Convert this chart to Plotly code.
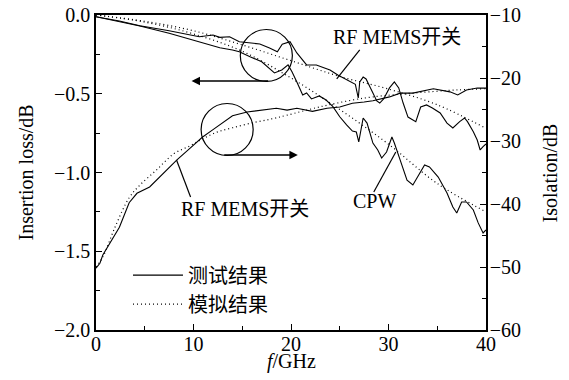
import plotly.graph_objects as go

FONT = "Liberation Serif"
FONT_CJK = "Liberation Serif, Noto Sans CJK SC"

# ---- Insertion loss, RF MEMS switch (measured) ----
il_mems_x = [0, 2.4, 4.5, 7.5, 10.6, 12.0, 12.7, 13.7, 14.7, 16.8, 17.8, 18.6, 19.1, 19.9, 20.6,
             21.6, 22.6, 24.0, 24.8, 25.7, 26.3, 26.6, 26.9, 27.05, 27.4, 27.7, 28.1, 28.8, 29.1,
             29.5, 30.1, 30.6, 31.05, 31.5, 32.0, 32.5, 32.8, 33.3, 33.9, 34.5, 35.3, 36.0, 36.6,
             37.3, 37.8, 38.1, 38.7, 39.1, 39.4, 39.7, 40.0]
il_mems_y = [-0.011, -0.038, -0.068, -0.10, -0.138, -0.127, -0.142, -0.138, -0.17, -0.184, -0.21,
             -0.233, -0.186, -0.17, -0.241, -0.317, -0.317, -0.349, -0.381, -0.413, -0.432, -0.44,
             -0.527, -0.425, -0.394, -0.406, -0.457, -0.546, -0.559, -0.533, -0.463, -0.425, -0.463,
             -0.559, -0.648, -0.667, -0.677, -0.584, -0.571, -0.59, -0.622, -0.686, -0.717, -0.677,
             -0.654, -0.677, -0.741, -0.794, -0.857, -0.836, -0.819]

# ---- Insertion loss, CPW (measured) ----
il_cpw_x = [0, 2.4, 4.5, 7.5, 10.6, 12.7, 14.0, 14.7, 15.8, 17.0, 18.3, 19.05, 19.7, 20.1, 20.6,
            21.2, 21.6, 22.1, 22.9, 23.6, 24.3, 25.0, 25.7, 26.3, 26.7, 26.95, 27.4, 27.8, 28.4,
            28.9, 29.3, 29.8, 30.35, 30.6, 31.2, 31.9, 32.5, 33.0, 33.7, 34.2, 35.1, 36.0, 36.6,
            37.0, 37.5, 38.0, 38.7, 39.2, 39.7, 40.0]
il_cpw_y = [-0.011, -0.04, -0.07, -0.116, -0.171, -0.208, -0.222, -0.233, -0.265, -0.297, -0.368,
            -0.349, -0.317, -0.36, -0.425, -0.508, -0.495, -0.533, -0.514, -0.54, -0.582, -0.646,
            -0.698, -0.737, -0.743, -0.806, -0.654, -0.686, -0.813, -0.857, -0.908, -0.87, -0.775,
            -0.813, -0.921, -1.048, -1.079, -1.029, -0.952, -0.965, -1.029, -1.13, -1.219, -1.257,
            -1.187, -1.187, -1.238, -1.32, -1.384, -1.365]

# ---- Insertion loss, simulated ----
il_sim_x = [0, 5, 10, 15, 20, 25, 30, 35, 40]
il_mems_sim_y = [0, -0.04, -0.10, -0.19, -0.29, -0.39, -0.47, -0.57, -0.72]
il_cpw_sim_y = [0, -0.045, -0.12, -0.23, -0.40, -0.60, -0.82, -1.07, -1.25]

# ---- Isolation, RF MEMS switch ----
iso_x = [0, 0.4, 0.7, 1.4, 2.1, 2.4, 3.4, 4.2, 5.5, 7.0, 8.3, 9.6, 10.9, 12.0, 13.0, 14.0, 15.5,
         17.0, 18.5, 19.6, 20.6, 22.2, 23.7, 25.0, 26.3, 27.5, 28.4, 30.1, 31.2, 32.5, 34.6, 36.3,
         37.1, 38.0, 39.1, 40]
iso_y = [-50.2, -49.4, -48.1, -46.2, -44.5, -43.7, -39.8, -38.3, -37.3, -35.0, -33.0, -31.2, -29.4,
         -28.2, -27.1, -26.0, -25.4, -25.1, -24.8, -25.1, -24.8, -25.3, -24.8, -24.6, -24.0, -23.8,
         -23.6, -23.0, -22.4, -22.4, -21.7, -22.2, -22.7, -21.9, -21.6, -21.6]
iso_sim_x = [0, 0.7, 2.0, 3.4, 4.5, 6.2, 8.0, 9.6, 11.0, 12.4, 14.0, 16.1, 18.0, 19.6, 22.9, 26.3,
             28.4, 32.5, 37.0, 40]
iso_sim_y = [-50.0, -48.4, -43.5, -39.0, -37.0, -34.6, -32.0, -30.8, -29.6, -28.6, -27.9, -27.1,
             -26.5, -25.9, -24.6, -23.5, -23.0, -22.4, -21.9, -21.7]

legend_names = ["测试结果", "模拟结果"]
axis_titles = ["<i>f</i>/GHz", "Insertion loss/dB", "Isolation/dB"]

fig = go.Figure()
solid = dict(color="black", width=1.1)
dotted = dict(color="black", width=1.2, dash="1px,3px")

fig.add_trace(go.Scatter(x=il_mems_x, y=il_mems_y, mode="lines", line=solid,
                         name=legend_names[0], showlegend=True))
fig.add_trace(go.Scatter(x=il_sim_x, y=il_mems_sim_y, mode="lines", line=dict(dotted, shape="spline"),
                         name=legend_names[1], showlegend=True))
fig.add_trace(go.Scatter(x=il_cpw_x, y=il_cpw_y, mode="lines", line=solid, showlegend=False))
fig.add_trace(go.Scatter(x=il_sim_x, y=il_cpw_sim_y, mode="lines", line=dict(dotted, shape="spline"),
                         showlegend=False))
fig.add_trace(go.Scatter(x=iso_x, y=iso_y, mode="lines", line=solid, yaxis="y2", showlegend=False))
fig.add_trace(go.Scatter(x=iso_sim_x, y=iso_sim_y, mode="lines", line=dict(dotted, shape="spline"),
                         yaxis="y2", showlegend=False))

axis_common = dict(showgrid=False, zeroline=False, linecolor="black", linewidth=1.6,
                   ticks="inside", ticklen=6, tickwidth=1.2, tickcolor="black", automargin=False,
                   ticklabeloverflow="allow",
                   tickfont=dict(family=FONT, size=20, color="black"))

# the page body has an 8px margin, so the figure is 8px smaller and shifted accordingly
fig.update_layout(
    width=561, height=372,
    margin=dict(l=88, r=83, t=7, b=50),
    paper_bgcolor="white", plot_bgcolor="white",
    font=dict(family=FONT, size=20, color="black"),
    xaxis=dict(axis_common, range=[0, 40], dtick=10, mirror=True, ticklabelstandoff=-5,
               minor=dict(dtick=5, ticks="inside", ticklen=4, tickcolor="black")),
    yaxis=dict(axis_common, range=[-2, 0], dtick=0.5, tickformat=".1f",
               minor=dict(dtick=0.25, ticks="inside", ticklen=4, tickcolor="black")),
    yaxis2=dict(axis_common, range=[-60, -10], dtick=10, overlaying="y", side="right",
                ticklabelstandoff=-2,
                minor=dict(dtick=5, ticks="inside", ticklen=4, tickcolor="black")),
    legend=dict(x=0.082, y=0.236, xanchor="left", yanchor="top", bgcolor="rgba(0,0,0,0)",
                font=dict(family=FONT_CJK, size=20), itemwidth=50, tracegroupgap=0),
)

# Axis titles
fig.add_annotation(x=0.5, y=-0.1, xref="paper", yref="paper", text=axis_titles[0],
                   xanchor="center", yanchor="middle", showarrow=False, font=dict(family=FONT, size=20))
fig.add_annotation(x=-0.182, y=0.5, xref="paper", yref="paper", text=axis_titles[1],
                   xanchor="center", yanchor="middle", showarrow=False, textangle=-90,
                   font=dict(family=FONT, size=20))
fig.add_annotation(x=1.164, y=0.5, xref="paper", yref="paper", text=axis_titles[2],
                   xanchor="center", yanchor="middle", showarrow=False, textangle=-90,
                   font=dict(family=FONT, size=20))

# Magnifier circles
fig.add_shape(type="circle", xref="x", yref="y", x0=14.8, x1=20.14, y0=-0.422, y1=-0.092,
              line=dict(color="black", width=1.2))
fig.add_shape(type="circle", xref="x", yref="y", x0=10.78, x1=16.12, y0=-0.892, y1=-0.562,
              line=dict(color="black", width=1.2))

# Arrows
fig.add_annotation(x=9.8, y=-0.419, ax=17.8, ay=-0.419, xref="x", yref="y", axref="x", ayref="y",
                   text="", showarrow=True, arrowhead=2, arrowsize=1.3, arrowwidth=1.3, arrowcolor="black")
fig.add_annotation(x=20.7, y=-0.889, ax=13.0, ay=-0.889, xref="x", yref="y", axref="x", ayref="y",
                   text="", showarrow=True, arrowhead=2, arrowsize=1.3, arrowwidth=1.3, arrowcolor="black")

# Leader lines
for (x0, y0, x1, y1) in [(27.05, -0.222, 24.69, -0.406), (8.26, -0.921, 9.70, -1.156),
                         (28.49, -1.124, 30.75, -0.870)]:
    fig.add_shape(type="line", xref="x", yref="y", x0=x0, y0=y0, x1=x1, y1=y1,
                  line=dict(color="black", width=1.2))

# Labels
for (tx, ty, t) in [(30.85, -0.14, "RF MEMS开关"), (15.25, -1.232, "RF MEMS开关"), (28.6, -1.181, "CPW")]:
    fig.add_annotation(x=tx, y=ty, xref="x", yref="y", text=t, showarrow=False,
                       font=dict(family=FONT_CJK, size=20, color="black"))

fig.write_html("out.html")
